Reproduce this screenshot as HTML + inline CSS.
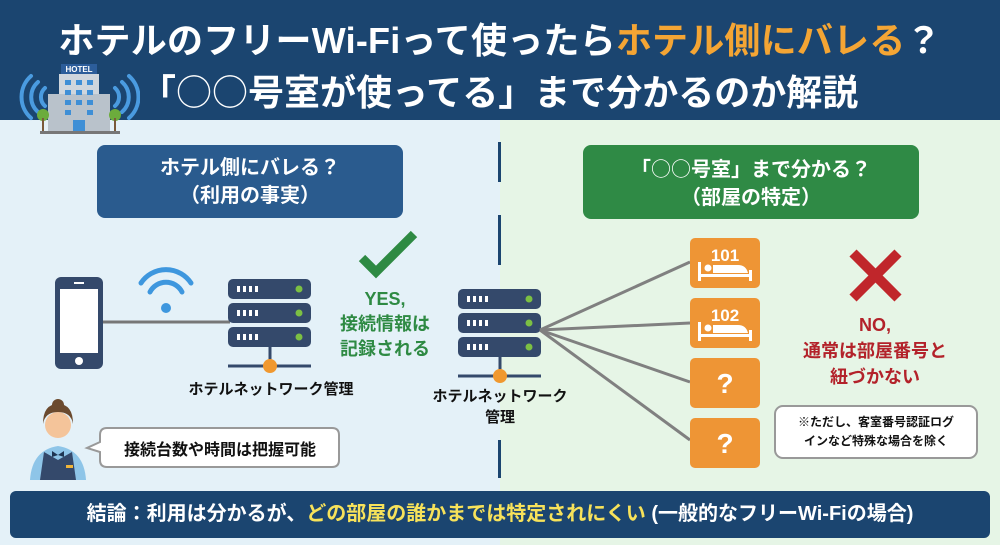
<!DOCTYPE html>
<html><head><meta charset="utf-8"><style>
*{margin:0;padding:0;box-sizing:border-box}
body{width:1000px;height:545px;overflow:hidden;position:relative;font-family:"Liberation Sans","Noto Sans CJK JP",sans-serif;font-weight:bold;background:#e4f1f8}
.a{position:absolute}
.c{text-align:center;white-space:nowrap}
.o{font-family:"Noto Sans CJK JP",sans-serif;font-weight:normal}
</style></head><body>
<div class="a" style="left:500px;top:120px;width:500px;height:425px;background:#e6f5e6"></div>
<div class="a" style="left:0;top:0;width:1000px;height:120px;background:#1b4570"></div>
<div class="a c" style="left:0;top:18px;width:1000px;font-size:36px;color:#fff;line-height:46px;letter-spacing:0.2px">ホテルのフリーWi-Fiって使ったら<span style="color:#f4a534">ホテル側にバレる</span>？</div>
<div class="a c" style="left:140px;top:67px;width:760px;font-size:36px;color:#fff;line-height:46px;text-align:left">「<span class="o">○○</span>号室が使ってる」まで分かるのか解説</div>
<!-- hotel icon -->
<svg class="a" style="left:15px;top:60px" width="125" height="75">
<g fill="none" stroke="#4a9be0" stroke-width="4" stroke-linecap="round">
<path d="M30 28 a12 12 0 0 0 0 18"/><path d="M23 22 a20 20 0 0 0 0 30"/><path d="M16 16 a28 28 0 0 0 0 42"/>
<path d="M100 28 a12 12 0 0 1 0 18"/><path d="M107 22 a20 20 0 0 1 0 30"/><path d="M114 16 a28 28 0 0 1 0 42"/></g>
<rect x="46" y="4" width="36" height="10" fill="#2c5d9a"/><text x="64" y="12" font-size="8" fill="#fff" text-anchor="middle" font-family="Liberation Sans">HOTEL</text>
<rect x="44" y="14" width="40" height="58" fill="#cfd6dd"/><rect x="33" y="34" width="62" height="38" fill="#b9c2cb"/>
<g fill="#3f8fd6"><rect x="50" y="20" width="6" height="5"/><rect x="61" y="20" width="6" height="5"/><rect x="72" y="20" width="6" height="5"/><rect x="50" y="30" width="6" height="5"/><rect x="61" y="30" width="6" height="5"/><rect x="72" y="30" width="6" height="5"/><rect x="50" y="40" width="6" height="5"/><rect x="61" y="40" width="6" height="5"/><rect x="72" y="40" width="6" height="5"/><rect x="50" y="50" width="6" height="5"/><rect x="72" y="50" width="6" height="5"/><rect x="58" y="60" width="12" height="12"/></g>
<circle cx="28" cy="55" r="6" fill="#6cac3c"/><rect x="27" y="58" width="2" height="14" fill="#7a5a3a"/>
<circle cx="100" cy="55" r="6" fill="#6cac3c"/><rect x="99" y="58" width="2" height="14" fill="#7a5a3a"/>
<rect x="25" y="71" width="80" height="3" fill="#777"/></svg>
<!-- divider -->
<div class="a" style="left:498px;top:142px;width:3px;height:40px;background:#1b4570"></div>
<div class="a" style="left:498px;top:215px;width:3px;height:50px;background:#1b4570"></div>
<div class="a" style="left:498px;top:440px;width:3px;height:38px;background:#1b4570"></div>
<!-- boxes -->
<div class="a c" style="left:97px;top:145px;width:306px;height:73px;background:#2a5b8e;border-radius:8px;color:#fff;font-size:20px;line-height:28px;padding-top:9px">ホテル側にバレる？<br>（利用の事実）</div>
<div class="a c" style="left:583px;top:145px;width:336px;height:74px;background:#2f8a45;border-radius:8px;color:#fff;font-size:20px;line-height:28px;padding-top:9px">「<span class="o">○○</span>号室」まで分かる？<br>（部屋の特定）</div>
<svg class="a" style="left:0;top:0" width="1000" height="545">
<rect x="55" y="277" width="48" height="92" rx="6" fill="#34496b"/><rect x="60" y="289" width="38" height="64" fill="#fff"/><rect x="74" y="282" width="10" height="2" fill="#fff"/><circle cx="79" cy="361" r="4" fill="#fff"/>
<line x1="103" y1="322" x2="230" y2="322" stroke="#777" stroke-width="3"/>
<g fill="none" stroke="#3e97de" stroke-width="5" stroke-linecap="round"><path d="M141 283 a30 30 0 0 1 50 0"/><path d="M150 292 a18 18 0 0 1 32 0"/></g><circle cx="166" cy="308" r="5" fill="#3e97de"/>
<g id="srv"><rect x="228" y="279" width="83" height="20" rx="5" fill="#34496b"/><rect x="228" y="303" width="83" height="20" rx="5" fill="#34496b"/><rect x="228" y="327" width="83" height="20" rx="5" fill="#34496b"/>
<g fill="#fff"><rect x="237" y="286" width="3" height="6"/><rect x="243" y="286" width="3" height="6"/><rect x="249" y="286" width="3" height="6"/><rect x="255" y="286" width="3" height="6"/><rect x="237" y="310" width="3" height="6"/><rect x="243" y="310" width="3" height="6"/><rect x="249" y="310" width="3" height="6"/><rect x="255" y="310" width="3" height="6"/><rect x="237" y="334" width="3" height="6"/><rect x="243" y="334" width="3" height="6"/><rect x="249" y="334" width="3" height="6"/><rect x="255" y="334" width="3" height="6"/></g>
<g fill="#7cc043"><circle cx="299" cy="289" r="3.5"/><circle cx="299" cy="313" r="3.5"/><circle cx="299" cy="337" r="3.5"/></g>
<line x1="270" y1="347" x2="270" y2="366" stroke="#34496b" stroke-width="3"/><line x1="228" y1="366" x2="311" y2="366" stroke="#34496b" stroke-width="3"/><circle cx="270" cy="366" r="7" fill="#f0982f"/></g>
<use href="#srv" x="230" y="10"/>
<path d="M362 258 l14 14 l38 -38" fill="none" stroke="#2e8a43" stroke-width="9"/>
<g stroke="#808080" stroke-width="3"><line x1="540" y1="330" x2="690" y2="262"/><line x1="540" y1="330" x2="690" y2="323"/><line x1="540" y1="330" x2="690" y2="382"/><line x1="540" y1="330" x2="690" y2="440"/></g>
<g fill="#ee9535"><rect x="690" y="238" width="70" height="50" rx="5"/><rect x="690" y="298" width="70" height="50" rx="5"/><rect x="690" y="358" width="70" height="50" rx="5"/><rect x="690" y="418" width="70" height="50" rx="5"/></g>
<g fill="#fff" font-family="Liberation Sans" font-weight="bold" text-anchor="middle"><text x="725" y="261" font-size="17">101</text><text x="725" y="321" font-size="17">102</text><text x="725" y="393" font-size="28">?</text><text x="725" y="453" font-size="28">?</text></g>
<g fill="#fff"><rect x="698" y="262" width="3" height="19"/><rect x="698" y="274" width="54" height="3"/><rect x="749" y="270" width="3" height="11"/><circle cx="708" cy="268" r="3.5"/><path d="M713 265 h25 q8 0 10 8 h-35z"/>
<rect x="698" y="322" width="3" height="19"/><rect x="698" y="334" width="54" height="3"/><rect x="749" y="330" width="3" height="11"/><circle cx="708" cy="328" r="3.5"/><path d="M713 325 h25 q8 0 10 8 h-35z"/></g>
<path d="M853 253 l45 45 M898 253 l-45 45" stroke="#c0262b" stroke-width="10"/>
<!-- person -->
<circle cx="58" cy="425" r="13" fill="#f4c49a"/><path d="M43 424 q0 -20 15 -20 q15 0 15 20 q-2 -12 -15 -12 q-13 0 -15 12z" fill="#6b4a2e"/><circle cx="58" cy="405" r="6" fill="#6b4a2e"/>
<path d="M30 480 q2 -30 28 -34 q26 4 28 34z" fill="#8ec5e8"/><path d="M40 480 l4 -28 l14 8 l14 -8 l4 28z" fill="#34496b"/><path d="M52 451 l6 4 l6 -4 l0 6 l-6 -2 l-6 2z" fill="#1e3552"/><rect x="66" y="465" width="7" height="3" fill="#f0b53a"/>
<path d="M100 435 q0 -7 7 -7 h225 q7 0 7 7 v25 q0 7 -7 7 h-225 q-7 0 -7 -7 v-8 l-13 -4 l13 -6z" fill="#fff" stroke="#999" stroke-width="2"/>
<rect x="775" y="406" width="202" height="52" rx="8" fill="#fff" stroke="#999" stroke-width="2"/>
</svg>
<div class="a c" style="left:175px;top:378px;width:192px;font-size:15px;color:#111">ホテルネットワーク管理</div>
<div class="a c" style="left:410px;top:386px;width:180px;font-size:15px;color:#111;line-height:21px">ホテルネットワーク<br>管理</div>
<div class="a c" style="left:320px;top:287px;width:130px;font-size:18px;color:#2e8a43;line-height:25px">YES,<br>接続情報は<br>記録される</div>
<div class="a c" style="left:800px;top:312px;width:150px;font-size:18px;color:#b3222a;line-height:26px">NO,<br>通常は部屋番号と<br>紐づかない</div>
<div class="a c" style="left:775px;top:413px;width:202px;font-size:12px;color:#111;line-height:19px">※ただし、客室番号認証ログ<br>インなど特殊な場合を除く</div>
<div class="a c" style="left:100px;top:436px;width:240px;font-size:16px;color:#111">接続台数や時間は把握可能</div>
<div class="a c" style="left:10px;top:491px;width:980px;height:47px;background:#1b4570;border-radius:6px;color:#fff;font-size:20px;line-height:47px">結論：利用は分かるが、<span style="color:#f7e25a">どの部屋の誰かまでは特定されにくい</span> (一般的なフリーWi-Fiの場合)</div>
</body></html>
